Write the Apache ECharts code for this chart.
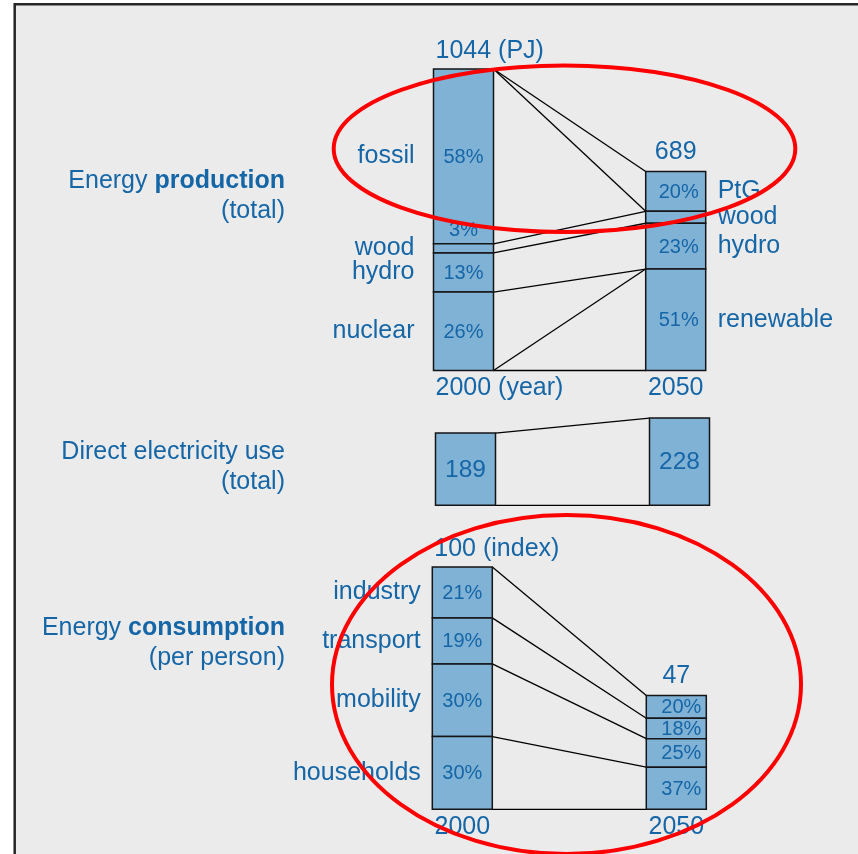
<!DOCTYPE html>
<html>
<head>
<meta charset="utf-8">
<script src="https://cdn.jsdelivr.net/npm/echarts@6/dist/echarts.min.js"></script>
<style>
  html, body { margin: 0; padding: 0; background: #ffffff; }
  #chart { width: 858px; height: 854px; }
</style>
</head>
<body>
<div id="chart"></div>
<script>
// ---- data ----
const years = ['2000', '2050'];

// Energy production (PJ), shares listed from top of the bar to the bottom
const prodTotals = [1044, 689];
const prodSources2000 = ['fossil', 'wood', 'hydro', 'nuclear'];
const prodShares2000 = [58, 3, 13, 26];
const prodShareLabels2000 = ['58%', '3%', '13%', '26%'];
const prodSources2050 = ['PtG', 'wood', 'hydro', 'renewable'];
const prodShares2050 = [20, 6, 23, 51];
const prodShareLabels2050 = ['20%', '', '23%', '51%'];
// connecting lines: [boundary index in 2000 bar, boundary index in 2050 bar], 0 = top edge
const prodLinks = [[0, 0], [0, 1], [1, 1], [2, 2], [3, 3], [4, 3], [4, 4]];

// Direct electricity use (total)
const elecTotals = [189, 228];
const elecLinks = [[0, 0], [1, 1]];

// Energy consumption per person (index, 2000 = 100)
const consTotals = [100, 47];
const consSectors = ['industry', 'transport', 'mobility', 'households'];
const consShares2000 = [21, 19, 30, 30];
const consShares2050 = [20, 18, 25, 37];
const consLinks = [[0, 0], [1, 1], [2, 2], [3, 3], [4, 4]];

// ---- styling ----
const FONT = '"Liberation Sans", Arial, sans-serif';
const BLUE = '#1566a7';
const FILL = '#80b2d6';
const EDGE = '#151515';
const BAR_W = 60;

function boundaries(total, shares) {
  const b = [total];
  let acc = 0;
  shares.forEach(s => { acc += s; b.push(Math.max(0, total * (1 - acc / 100))); });
  return b;
}

function label(x, y, text, size, align, valign) {
  return {
    type: 'text', x: x, y: y, z2: 10,
    style: {
      text: text, fill: BLUE, fontSize: size, fontFamily: FONT,
      align: align, verticalAlign: valign || 'middle'
    }
  };
}

// stacked segments of both bars in one section
function barSeries(idx, bars, opts) {
  const data = [];
  const meta = [];
  bars.forEach(bar => {
    const b = boundaries(bar.total, bar.shares);
    bar.shares.forEach((s, i) => {
      data.push([bar.cat, b[i], b[i + 1]]);
      meta.push({ bar: bar, i: i, n: bar.shares.length });
    });
  });
  return {
    type: 'custom', xAxisIndex: idx, yAxisIndex: idx, clip: false,
    encode: { x: 0, y: [1, 2] }, data: data,
    renderItem: function (params, api) {
      const m = meta[params.dataIndex];
      const bar = m.bar;
      const top = api.coord([api.value(0), api.value(1)]);
      const bot = api.coord([api.value(0), api.value(2)]);
      const cx = top[0];
      const x0 = cx - BAR_W / 2;
      const x1 = cx + BAR_W / 2;
      const h = bot[1] - top[1];
      const midY = (top[1] + bot[1]) / 2;
      const children = [{
        type: 'rect',
        shape: { x: x0, y: top[1], width: BAR_W, height: h },
        style: { fill: FILL, stroke: EDGE, lineWidth: 1.5 }
      }];
      const pct = bar.labels ? bar.labels[m.i] : '';
      if (pct) {
        const px = cx + (bar.cat === 1 ? opts.pctShift : 0);
        const py = h < 20 ? top[1] - 13 : midY + 1;
        children.push(label(px, py, pct, bar.labelSize || 20, 'center'));
      }
      const name = bar.names ? bar.names[m.i] : '';
      if (name) {
        if (bar.cat === 0) children.push(label(x0 - opts.nameGap, midY, name, 25, 'right'));
        else children.push(label(x1 + opts.nameGapRight, midY, name, 25, 'left'));
      }
      if (m.i === 0 && bar.top) {
        if (bar.cat === 0 && bar.top.indexOf('(') > 0) children.push(label(x0 + 2, top[1] - 18, bar.top, 25, 'left'));
        else children.push(label(cx, top[1] - 19, bar.top, 25, 'center'));
      }
      if (m.i === m.n - 1 && bar.bottom) {
        if (bar.cat === 0 && bar.bottom.indexOf('(') > 0) children.push(label(x0 + 2, bot[1] + 17.5, bar.bottom, 25, 'left'));
        else children.push(label(cx, bot[1] + 17.5, bar.bottom, 25, 'center'));
      }
      return { type: 'group', children: children };
    }
  };
}

// lines joining segment boundaries of the 2000 bar to the 2050 bar
function linkSeries(idx, b0, b1, links) {
  return {
    type: 'custom', xAxisIndex: idx, yAxisIndex: idx, clip: false, z: 1,
    encode: { x: [0, 2], y: [1, 3] },
    data: links.map(l => [0, b0[l[0]], 1, b1[l[1]]]),
    renderItem: function (params, api) {
      const p = api.coord([api.value(0), api.value(1)]);
      const q = api.coord([api.value(2), api.value(3)]);
      return {
        type: 'line',
        shape: { x1: p[0] + BAR_W / 2, y1: p[1], x2: q[0] - BAR_W / 2, y2: q[1] },
        style: { stroke: '#000', lineWidth: 1.3 }
      };
    }
  };
}

const prodBars = [
  { cat: 0, total: prodTotals[0], shares: prodShares2000, names: prodSources2000,
    labels: prodShareLabels2000, top: prodTotals[0] + ' (PJ)', bottom: years[0] + ' (year)' },
  { cat: 1, total: prodTotals[1], shares: prodShares2050, names: prodSources2050,
    labels: prodShareLabels2050, top: String(prodTotals[1]), bottom: years[1] }
];
const elecBars = [
  { cat: 0, total: elecTotals[0], shares: [100], labels: [String(elecTotals[0])], labelSize: 24.5 },
  { cat: 1, total: elecTotals[1], shares: [100], labels: [String(elecTotals[1])], labelSize: 24.5 }
];
const consBars = [
  { cat: 0, total: consTotals[0], shares: consShares2000, names: consSectors,
    labels: consShares2000.map(v => v + '%'), top: consTotals[0] + ' (index)', bottom: years[0] },
  { cat: 1, total: consTotals[1], shares: consShares2050,
    labels: consShares2050.map(v => v + '%'), top: String(consTotals[1]), bottom: years[1] }
];

const grids = [
  { left: 357.4, top: 69, width: 424.4, height: 301.5 },
  { left: 358.5, top: 409.7, width: 428, height: 95.6 },
  { left: 355.3, top: 567, width: 428, height: 242.3 }
];
const yMax = [prodTotals[0], 250, consTotals[0]];

const headerRich = {
  n: { fontSize: 25, fontFamily: FONT, color: BLUE, lineHeight: 30 },
  b: { fontSize: 25, fontFamily: FONT, color: BLUE, lineHeight: 30, fontWeight: 'bold' }
};
function header(y, text) {
  return {
    type: 'text', x: 285, y: y, z: 5,
    style: { text: text, rich: headerRich, align: 'right', verticalAlign: 'top', fill: BLUE }
  };
}

const option = {
  animation: false,
  backgroundColor: '#ffffff',
  grid: grids.map(g => Object.assign({ containLabel: false }, g)),
  xAxis: grids.map((g, i) => ({ type: 'category', gridIndex: i, data: years, show: false })),
  yAxis: grids.map((g, i) => ({ type: 'value', gridIndex: i, min: 0, max: yMax[i], show: false })),
  graphic: [
    { type: 'rect', z: -1, silent: true,
      shape: { x: 14.7, y: 4.3, width: 900, height: 900 },
      style: { fill: '#ebebeb', stroke: '#262626', lineWidth: 2.5 } },
    header(166, '{n|Energy }{b|production}\n{n|(total)}'),
    header(437, '{n|Direct electricity use}\n{n|(total)}'),
    header(613, '{n|Energy }{b|consumption}\n{n|(per person)}'),
    { type: 'ellipse', z: 100, silent: true,
      shape: { cx: 564.5, cy: 148.7, rx: 230.8, ry: 83.3 },
      style: { fill: 'none', stroke: '#ff0000', lineWidth: 4 } },
    { type: 'ellipse', z: 100, silent: true,
      shape: { cx: 566.5, cy: 684.5, rx: 234.5, ry: 169.5 },
      style: { fill: 'none', stroke: '#ff0000', lineWidth: 4 } }
  ],
  series: [
    linkSeries(0, boundaries(prodTotals[0], prodShares2000), boundaries(prodTotals[1], prodShares2050), prodLinks),
    barSeries(0, prodBars, { nameGap: 19, nameGapRight: 12, pctShift: 3 }),
    linkSeries(1, boundaries(elecTotals[0], [100]), boundaries(elecTotals[1], [100]), elecLinks),
    barSeries(1, elecBars, { nameGap: 12, nameGapRight: 12, pctShift: 0 }),
    linkSeries(2, boundaries(consTotals[0], consShares2000), boundaries(consTotals[1], consShares2050), consLinks),
    barSeries(2, consBars, { nameGap: 11.5, nameGapRight: 12, pctShift: 5 })
  ]
};

const chart = echarts.init(document.getElementById('chart'), null, { renderer: 'canvas' });
chart.setOption(option);
</script>
</body>
</html>
